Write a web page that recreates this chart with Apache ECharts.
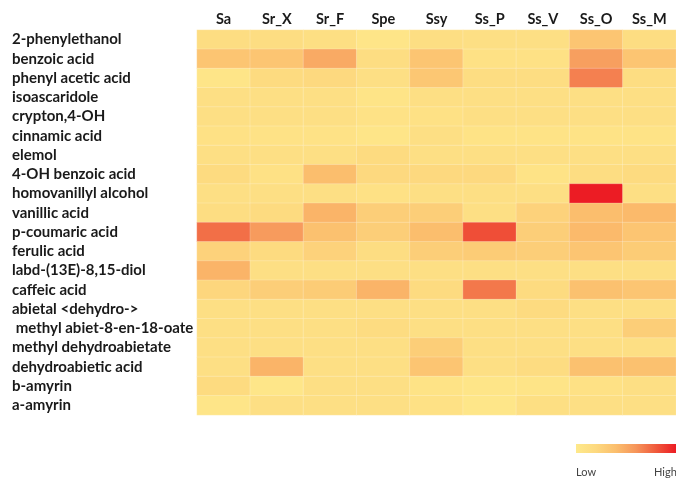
<!DOCTYPE html>
<html>
<head>
<meta charset="utf-8">
<script src="https://cdn.jsdelivr.net/npm/echarts@6/dist/echarts.min.js"></script>
<style>
  html, body { margin: 0; padding: 0; background: #fff; }
  #chart { width: 676px; height: 480px; }
</style>
</head>
<body>
<div id="chart"></div>
<script>
// Sample groups (columns)
const samples = ['Sa', 'Sr_X', 'Sr_F', 'Spe', 'Ssy', 'Ss_P', 'Ss_V', 'Ss_O', 'Ss_M'];

// Compounds (rows, top to bottom)
const compounds = [
  '2-phenylethanol',
  'benzoic acid',
  'phenyl acetic acid',
  'isoascaridole',
  'crypton,4-OH',
  'cinnamic acid',
  'elemol',
  '4-OH benzoic acid',
  'homovanillyl alcohol',
  'vanillic acid',
  'p-coumaric acid',
  'ferulic acid',
  'labd-(13E)-8,15-diol',
  'caffeic acid',
  'abietal <dehydro->',
  ' methyl abiet-8-en-18-oate',
  'methyl dehydroabietate',
  'dehydroabietic acid',
  'b-amyrin',
  'a-amyrin'
];

// Relative abundance (0 = low, 100 = high), one array per sample, in compound order
const valSa   = [15, 35,  5, 12, 12, 10, 12, 18,  12, 15, 73, 25, 45, 22, 12, 12, 12, 12, 18,  5];
const valSrX  = [15, 35, 18, 12, 12,  9, 12, 10,  12, 18, 57, 18, 12, 28, 12, 12, 12, 45,  4, 12];
const valSrF  = [13, 50, 20, 12, 12,  9, 12, 40,  12, 45, 38, 25, 12, 30, 12, 12, 12, 12, 12, 12];
const valSpe  = [ 5, 15, 12,  6,  9,  5, 18, 20,  10, 28, 28, 15, 12, 45, 12, 16, 12, 12, 12, 12];
const valSsy  = [14, 35, 33, 12, 10, 12, 12, 20,  12, 28, 40, 28, 12, 18, 12, 12, 28, 35,  8, 10];
const valSsP  = [12, 10, 15, 12, 12,  8, 12, 20,  12, 12, 84, 30, 12, 70, 12, 12, 12, 12,  5,  4];
const valSsV  = [12, 10, 15, 12, 12,  8, 12,  8,  12, 25, 28, 28, 12, 18, 18, 12, 12, 16,  6, 13];
const valSsO  = [35, 55, 67, 12, 12,  8, 12, 15, 100, 40, 42, 35, 12, 38, 12, 12, 12, 38, 10, 12];
const valSsM  = [15, 35, 15, 12, 12,  8, 12, 18,  12, 42, 35, 30, 12, 35, 12, 28, 12, 38, 12, 12];

const columns = [valSa, valSrX, valSrF, valSpe, valSsy, valSsP, valSsV, valSsO, valSsM];

// Colour ramp shared by the cells and the Low/High key
const ramp = ['#FEE98B', '#FDD97F', '#FBBE6D', '#F6955A', '#F05A3C', '#EC1C24'];

const cells = [];
columns.forEach(function (col, ci) {
  col.forEach(function (v, ri) { cells.push([ci, ri, v]); });
});

const labelFont = 'Lato, "Open Sans", sans-serif';

const chart = echarts.init(document.getElementById('chart'));
chart.setOption({
  backgroundColor: '#ffffff',
  animation: false,
  grid: { left: 197, right: 0, top: 30, bottom: 65 },
  xAxis: {
    type: 'category',
    position: 'top',
    data: samples,
    axisLine: { show: false },
    axisTick: { show: false },
    splitLine: { show: false },
    axisLabel: {
      interval: 0,
      margin: 3,
      color: '#1a1a1a',
      fontWeight: 'bold',
      fontSize: 14.5,
      fontFamily: labelFont
    }
  },
  yAxis: {
    type: 'category',
    inverse: true,
    data: compounds,
    axisLine: { show: false },
    axisTick: { show: false },
    splitLine: { show: false },
    axisLabel: {
      interval: 0,
      align: 'left',
      margin: 185,
      color: '#1a1a1a',
      fontWeight: 'bold',
      fontSize: 15,
      fontFamily: labelFont
    }
  },
  visualMap: {
    type: 'continuous',
    show: false,
    min: 0,
    max: 100,
    inRange: { color: ramp }
  },
  graphic: [
    {
      type: 'rect',
      shape: { x: 576, y: 444, width: 100, height: 9 },
      style: {
        fill: new echarts.graphic.LinearGradient(0, 0, 1, 0,
          ramp.map(function (c, i) { return { offset: i / (ramp.length - 1), color: c }; }))
      }
    },
    {
      type: 'text', left: 576, top: 467,
      style: { text: 'Low', fill: '#444', font: '11px ' + labelFont }
    },
    {
      type: 'text', left: 654, top: 467,
      style: { text: 'High', fill: '#444', font: '11px ' + labelFont }
    }
  ],
  series: [{
    type: 'heatmap',
    data: cells,
    itemStyle: { borderColor: 'rgba(255,255,255,0.35)', borderWidth: 0.6 },
    emphasis: { disabled: true }
  }]
});
</script>
</body>
</html>
